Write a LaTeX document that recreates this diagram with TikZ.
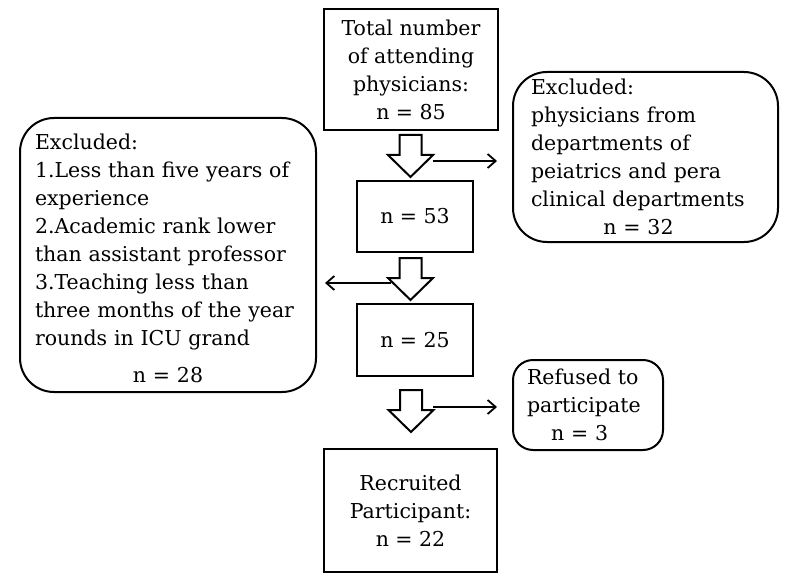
\documentclass[tikz,border=0pt]{standalone}
\usepackage{fontspec}
\setmainfont{DejaVu Serif}
\usetikzlibrary{arrows.meta,calc}

\tikzset{
  txt/.style={font=\fontsize{20.5}{28}\selectfont},
  box/.style={txt, draw, line width=2pt, inner sep=0pt, align=center},
  roundbox/.style={txt, draw, line width=2pt, rounded corners=34pt, inner ysep=0pt, inner xsep=15pt, align=left},
  blk/.style={draw, line width=2pt, fill=white, line join=miter},
  side/.style={line width=1.8pt, -{Straight Barb[length=8pt,width=14pt,line width=1.8pt]}},
}

% down block arrow, #1 = top middle of the shaft
\newcommand{\blockdown}[1]{
  \draw[blk] ($(#1)+(-11,0)$) -- ++(0,20) -- ++(-11.5,0) -- ++(22.5,22)
    -- ++(22.5,-22) -- ++(-11.5,0) -- ++(0,-20) -- cycle;
}
% a centred last line inside a left aligned box
\newcommand{\midline}[1]{\makebox[\hsize]{#1}}

\begin{document}
\begin{tikzpicture}[x=1pt,y=-1pt]
\useasboundingbox (0,0) rectangle (794,580);

% main column
\node[box, minimum width=174pt, minimum height=121pt] (total) at (411,69.5)
  {Total number\\of attending\\physicians:\\n = 85};
\node[box, minimum width=116pt, minimum height=71pt] (n53) at (415,216.5) {n = 53};
\node[box, minimum width=116pt, minimum height=72pt] (n25) at (415,340) {n = 25};
\node[box, minimum width=173pt, minimum height=123pt] (recr) at (410.5,510.5)
  {Recruited\\Participant:\\n = 22};

% side boxes
\node[roundbox, inner xsep=18pt, text width=229pt, minimum height=170pt] (exone) at (645.5,157)
  {Excluded:\\physicians from\\departments of\\peiatrics and pera\\clinical departments\\
   \midline{\hspace*{-14pt}n = 32}};
\node[roundbox, text width=266pt, minimum height=274pt] (extwo) at (168,255)
  {\\[-6pt]Excluded:\\1.Less than five years of\\experience\\2.Academic rank lower\\than assistant professor\\
   3.Teaching less than\\three months of the year\\rounds in ICU grand\\[9pt]
   \midline{n = 28}};
\node[roundbox, text width=122pt, inner xsep=14pt, minimum height=90pt, rounded corners=20pt] (refused) at (588,405)
  {Refused to\\participate\\\hspace*{24pt}n = 3};

% block arrows
\coordinate (a1) at (410.5,135);
\coordinate (a2) at (410.5,258);
\coordinate (a3) at (411,390);
\blockdown{a1}
\blockdown{a2}
\blockdown{a3}

% side arrows
\coordinate (h1) at (497,161);
\coordinate (h2) at (325,283);
\coordinate (h3) at (497,407);
\draw[side] ($(a1)+(22,26)$) -- (h1);
\draw[side] ($(a2)+(-20,25)$) -- (h2);
\draw[side] ($(a3)+(22,17)$) -- (h3);
\end{tikzpicture}
\end{document}
